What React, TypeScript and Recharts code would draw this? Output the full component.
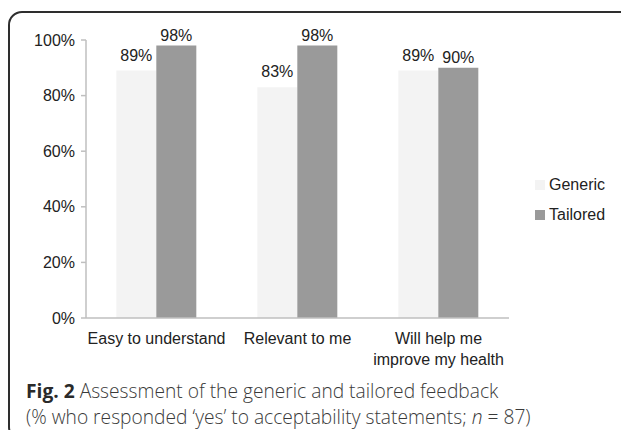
import React from "react";
import { BarChart, Bar, XAxis, YAxis, LabelList } from "recharts";

const categories = ["Easy to understand", "Relevant to me", "Will help me\nimprove my health"];
const genericValues = [89, 83, 89];
const tailoredValues = [98, 98, 90];
const yTicks = [0, 20, 40, 60, 80, 100];
const edgeTicks = [0, 1, 2, 3];

const seriesNames = ["Generic", "Tailored"];
const seriesColors = ["#f3f3f3", "#9a9a9a"];

const data = categories.map((name, i) => ({
  name,
  generic: genericValues[i],
  tailored: tailoredValues[i],
}));

const FONT = "'Liberation Sans', Arial, sans-serif";

// category label, split on \n into lines
const CategoryTick = (props: any) => {
  const { x, y, payload } = props;
  const lines = String(payload.value).split("\n");
  return (
    <text x={x} y={y} textAnchor="middle" fill="#222" fontSize={16} fontFamily={FONT}>
      {lines.map((line, i) => (
        <tspan key={i} x={x} dy={i === 0 ? 26 : 21}>
          {line}
        </tspan>
      ))}
    </text>
  );
};

export default function App() {
  return (
    <div
      style={{
        position: "relative",
        margin: -8,
        width: 629,
        height: 438,
        overflow: "hidden",
        background: "#fff",
      }}
    >
      <div
        style={{
          position: "absolute",
          left: 8,
          top: 11,
          width: 626,
          height: 430,
          boxSizing: "border-box",
          border: "2px solid #2e2e2e",
          borderRadius: 14,
        }}
      />
      <div style={{ position: "absolute", left: 0, top: 0 }}>
        <BarChart
          width={629}
          height={380}
          data={data}
          margin={{ top: 40, right: 120, bottom: 0, left: 0 }}
          barCategoryGap="21.5%"
          barGap={0}
        >
          <XAxis
            xAxisId="edges"
            type="number"
            domain={[0, 3]}
            ticks={edgeTicks}
            allowDataOverflow
            height={0}
            axisLine={false}
            tick={false}
            tickSize={4}
            tickLine={{ stroke: "#bfbfbf", strokeWidth: 1.5 }}
          />
          <XAxis
            dataKey="name"
            height={62}
            interval={0}
            axisLine={{ stroke: "#bfbfbf", strokeWidth: 1.5 }}
            tickLine={false}
            tickSize={0}
            tickMargin={0}
            tick={<CategoryTick />}
          />
          <YAxis
            width={86}
            domain={[0, 100]}
            ticks={yTicks}
            interval={0}
            tickFormatter={(v) => `${v}%`}
            axisLine={{ stroke: "#bfbfbf", strokeWidth: 1.5 }}
            tickLine={{ stroke: "#bfbfbf", strokeWidth: 1.5 }}
            tickSize={5}
            tickMargin={6}
            tick={{ fill: "#222", fontSize: 16, fontFamily: FONT }}
          />
          <Bar dataKey="generic" name={seriesNames[0]} fill={seriesColors[0]} isAnimationActive={false}>
            <LabelList
              dataKey="generic"
              position="top"
              offset={10}
              formatter={(v: any) => `${v}%`}
              style={{ fill: "#222", fontSize: 16, fontFamily: FONT }}
            />
          </Bar>
          <Bar dataKey="tailored" name={seriesNames[1]} fill={seriesColors[1]} isAnimationActive={false}>
            <LabelList
              dataKey="tailored"
              position="top"
              offset={5}
              formatter={(v: any) => `${v}%`}
              style={{ fill: "#222", fontSize: 16, fontFamily: FONT }}
            />
          </Bar>
        </BarChart>
      </div>

      {/* legend */}
      <div style={{ position: "absolute", left: 535, top: 170, fontFamily: FONT, fontSize: 16, color: "#222" }}>
        {seriesNames.map((name, i) => (
          <div key={name} style={{ display: "flex", alignItems: "center", height: 30 }}>
            <span
              style={{
                display: "inline-block",
                width: 10,
                height: 10,
                background: seriesColors[i],
                marginRight: 4,
              }}
            />
            <span>{name}</span>
          </div>
        ))}
      </div>

      {/* caption */}
      <div
        style={{
          position: "absolute",
          left: 26,
          top: 378,
          fontFamily: "'Open Sans', 'Noto Sans', sans-serif",
          fontWeight: 300,
          fontSize: 19.2,
          lineHeight: "26.4px",
          color: "#3a3a3a",
          whiteSpace: "nowrap",
        }}
      >
        <div>
          <span style={{ fontWeight: 700, color: "#2a2a2a" }}>Fig. 2</span> Assessment of the generic and tailored
          feedback
        </div>
        <div>
          (% who responded ‘yes’ to acceptability statements; <i>n</i> = 87)
        </div>
      </div>
    </div>
  );
}
